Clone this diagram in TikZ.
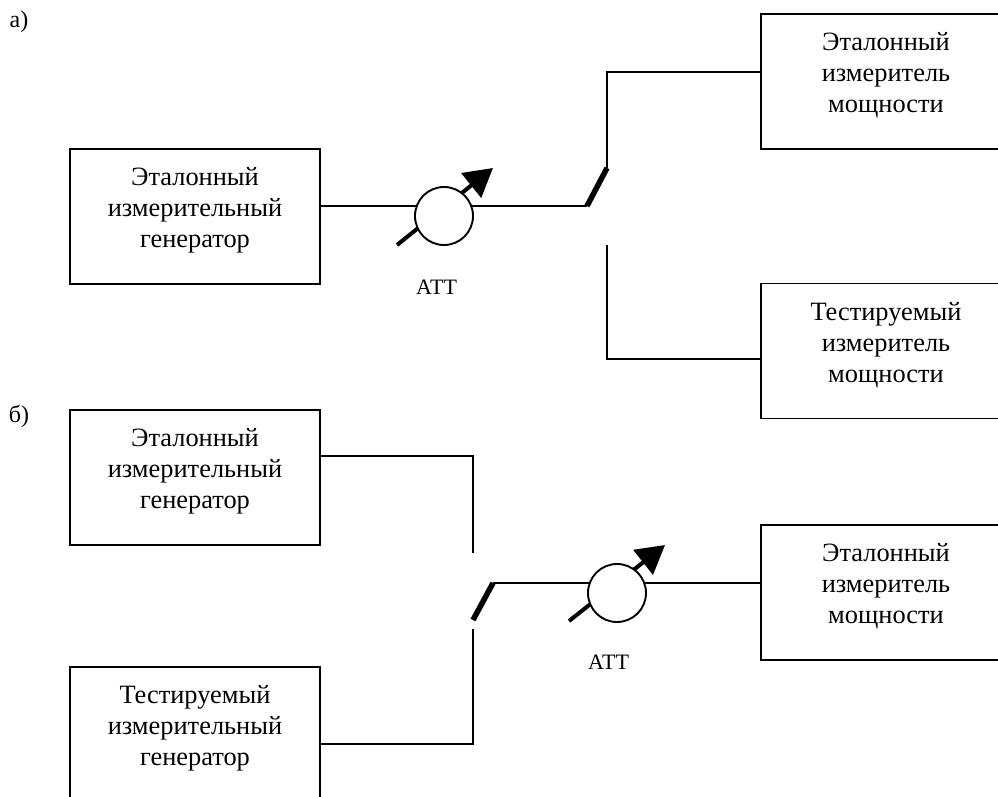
\documentclass[tikz,border=0pt]{standalone}
\usepackage{fontspec}
\setmainfont{Liberation Serif}
\usetikzlibrary{arrows.meta}
\newcommand{\boxend}{\\[-13pt]\mbox{}}
\tikzset{
  devbox/.style={draw,line width=1.9pt,minimum width=250pt,minimum height=135pt,align=center,inner sep=0pt},
  wire/.style={line width=1.9pt,line join=miter},
  blade/.style={line width=5.5pt},
  attarrow/.style={line width=4pt,-{Triangle[length=28pt,width=31pt]}},
  attcircle/.style={draw,circle,fill=white,line width=1.9pt,minimum size=58pt,inner sep=0pt},
  attlabel/.style={font=\fontsize{22}{26}\selectfont},
  partlabel/.style={font=\fontsize{24}{30}\selectfont}
}
\begin{document}
\begin{tikzpicture}[x=1pt,y=-1pt,font=\fontsize{26.4}{31}\selectfont]
  \useasboundingbox (0,0) rectangle (998,797);
  \clip (0,0) rectangle (998,797);

  % a)
  \node[partlabel] (parta) at (19,22) {а)};
  \node[devbox] (gena) at (195,216.5) {Эталонный\\измерительный\\генератор\boxend};
  \node[devbox] (refa) at (886,81.5) {Эталонный\\измеритель\\мощности\boxend};
  \node[devbox] (testa) at (886,351) {Тестируемый\\измеритель\\мощности\boxend};
  \coordinate (pivota) at (587,206);
  \coordinate (contacta) at (607,168);
  \coordinate (cornera) at (607,72);
  \coordinate (lowera) at (607,245);
  \coordinate (cornerc) at (607,359);
  \coordinate (taila) at (397,245);
  \coordinate (tipa) at (493,168);
  \draw[wire] (gena.east |- pivota) -- (pivota);
  \draw[wire] (contacta) -- (cornera) -- (refa.west |- cornera);
  \draw[wire] (lowera) -- (cornerc) -- (testa.west |- cornerc);
  \draw[blade] (pivota) -- (contacta);
  \draw[attarrow] (taila) -- (tipa);
  \node[attcircle] (atta) at (444,216) {};
  \node[attlabel] (attnamea) at (436.5,287) {АТТ};

  % б)
  \node[partlabel] (partb) at (19,416) {б)};
  \node[devbox] (genb) at (195,477.5) {Эталонный\\измерительный\\генератор\boxend};
  \node[devbox] (testb) at (195,734.5) {Тестируемый\\измерительный\\генератор\boxend};
  \node[devbox] (refb) at (886,592.5) {Эталонный\\измеритель\\мощности\boxend};
  \coordinate (pivotb) at (473,620);
  \coordinate (contactb) at (493,583);
  \coordinate (cornerd) at (473,456);
  \coordinate (upperb) at (473,553);
  \coordinate (lowerb) at (473,629);
  \coordinate (cornere) at (473,744);
  \coordinate (tailb) at (569,621);
  \coordinate (tipb) at (665,545);
  \draw[wire] (genb.east |- cornerd) -- (cornerd) -- (upperb);
  \draw[wire] (testb.east |- cornere) -- (cornere) -- (lowerb);
  \draw[wire] (contactb) -- (refb.west |- contactb);
  \draw[blade] (pivotb) -- (contactb);
  \draw[attarrow] (tailb) -- (tipb);
  \node[attcircle] (attb) at (617,593) {};
  \node[attlabel] (attnameb) at (608.5,662) {АТТ};
\end{tikzpicture}
\end{document}
